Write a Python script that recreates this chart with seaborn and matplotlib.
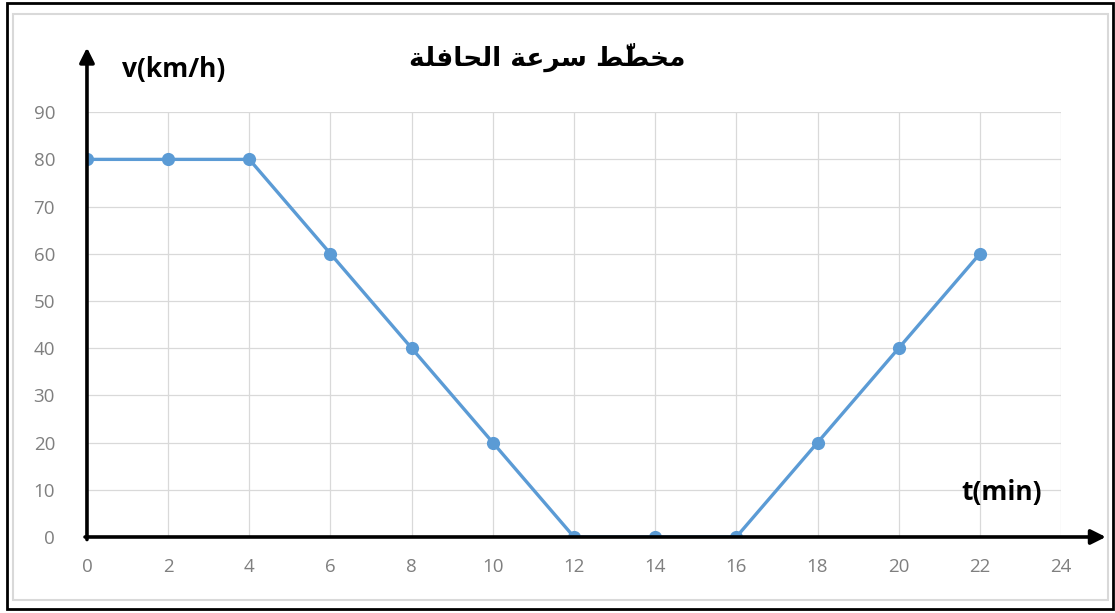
import matplotlib
matplotlib.use("Agg")
import matplotlib.pyplot as plt
import numpy as np
import pandas as pd
import seaborn as sns
from matplotlib.patches import Rectangle

# 数据: 公交车速度-时间
time_min = [0, 2, 4, 6, 8, 10, 12, 14, 16, 18, 20, 22]
speed_kmh = [80, 80, 80, 60, 40, 20, 0, 0, 0, 20, 40, 60]
x_ticks = list(range(0, 25, 2))
y_ticks = list(range(0, 91, 10))

title_ar = "مخطّط سرعة الحافلة"
y_label = "v(km/h)"
x_label = "t(min)"

LINE_COLOR = "#5b9bd5"

# matplotlib 不做阿拉伯文连写，这里手动转为呈现形式并按视觉顺序排列
# (iso, fin, ini, med)
AR_FORMS = {
    "م": (0xFEE1, 0xFEE2, 0xFEE3, 0xFEE4),
    "خ": (0xFEA5, 0xFEA6, 0xFEA7, 0xFEA8),
    "ط": (0xFEC1, 0xFEC2, 0xFEC3, 0xFEC4),
    "س": (0xFEB1, 0xFEB2, 0xFEB3, 0xFEB4),
    "ع": (0xFEC9, 0xFECA, 0xFECB, 0xFECC),
    "ل": (0xFEDD, 0xFEDE, 0xFEDF, 0xFEE0),
    "ح": (0xFEA1, 0xFEA2, 0xFEA3, 0xFEA4),
    "ف": (0xFED1, 0xFED2, 0xFED3, 0xFED4),
    "ر": (0xFEAD, 0xFEAE, None, None),
    "ا": (0xFE8D, 0xFE8E, None, None),
    "ة": (0xFE93, 0xFE94, None, None),
}
AR_MARKS = {"\u0651"}


def shape_arabic(text):
    chars = list(text)
    letters = [i for i, c in enumerate(chars) if c in AR_FORMS]

    def adjacent(a, b):
        return all(chars[j] in AR_MARKS for j in range(a + 1, b))

    out = list(chars)
    for k, i in enumerate(letters):
        c = chars[i]
        prev_i = letters[k - 1] if k > 0 else None
        next_i = letters[k + 1] if k + 1 < len(letters) else None
        join_prev = (prev_i is not None and adjacent(prev_i, i)
                     and AR_FORMS[chars[prev_i]][2] is not None)
        join_next = (next_i is not None and adjacent(i, next_i)
                     and AR_FORMS[c][2] is not None)
        iso, fin, ini, med = AR_FORMS[c]
        if join_prev and join_next:
            code = med
        elif join_prev:
            code = fin
        elif join_next:
            code = ini
        else:
            code = iso
        out[i] = chr(code)
    # 每个基字带上它的组合符号（符号放在前面，DejaVu 会把它画在右侧的字上）
    groups = []
    for c in out:
        if c in AR_MARKS and groups:
            groups[-1] = c + groups[-1]
        else:
            groups.append(c)
    return "".join(reversed(groups))


sns.set_theme(style="whitegrid")
plt.rcParams["font.family"] = ["Open Sans", "DejaVu Sans"]

df = pd.DataFrame({"t": time_min, "v": speed_kmh})

fig = plt.figure(figsize=(11.15, 6.13), dpi=100)
ax = fig.add_axes([0.078, 0.124, 0.8736, 0.693])

sns.lineplot(data=df, x="t", y="v", ax=ax, color=LINE_COLOR, linewidth=2.4,
             marker="o", markersize=9.5, markeredgewidth=0, zorder=3)

ax.set_xlim(0, 24)
ax.set_ylim(0, 90)
ax.set_xticks(x_ticks)
ax.set_yticks(y_ticks)
ax.set_xlabel("")
ax.set_ylabel("")
ax.grid(True, color="#d9d9d9", linewidth=0.9)
for s in ax.spines.values():
    s.set_visible(False)
ax.tick_params(axis="both", length=0, labelsize=13.5, labelcolor="#7f7f7f")
ax.tick_params(axis="x", pad=15)
ax.tick_params(axis="y", pad=23)

# 黑色坐标轴箭头
ax.annotate("", xy=(1.046, 0), xytext=(-0.002, 0), xycoords="axes fraction",
            arrowprops=dict(arrowstyle="-|>", lw=2.6, color="black",
                            mutation_scale=22, shrinkA=0, shrinkB=0), zorder=5)
ax.annotate("", xy=(0, 1.152), xytext=(0, -0.006), xycoords="axes fraction",
            arrowprops=dict(arrowstyle="-|>", lw=2.6, color="black",
                            mutation_scale=22, shrinkA=0, shrinkB=0), zorder=5)

fig.text(0.156, 0.886, y_label, fontsize=19, fontweight="bold",
         ha="center", va="center", color="black")
fig.text(0.898, 0.197, x_label, fontsize=19, fontweight="bold",
         ha="center", va="center", color="black")
fig.text(0.491, 0.907, shape_arabic(title_ar), fontsize=19, fontweight="bold",
         family=["DejaVu Sans"], ha="center", va="center", color="black")

# 边框: 内部浅灰色图表区边框 + 外部黑色边框
fig.patches.append(Rectangle((13 / 1115, 1 - 600 / 613), 1095 / 1115, 586 / 613,
                             transform=fig.transFigure, fill=False,
                             edgecolor="#d9d9d9", linewidth=1.5))
fig.patches.append(Rectangle((7 / 1115, 1 - 609 / 613), 1106 / 1115, 606 / 613,
                             transform=fig.transFigure, fill=False,
                             edgecolor="black", linewidth=2))

fig.savefig("out.png", dpi=100, facecolor="white")
